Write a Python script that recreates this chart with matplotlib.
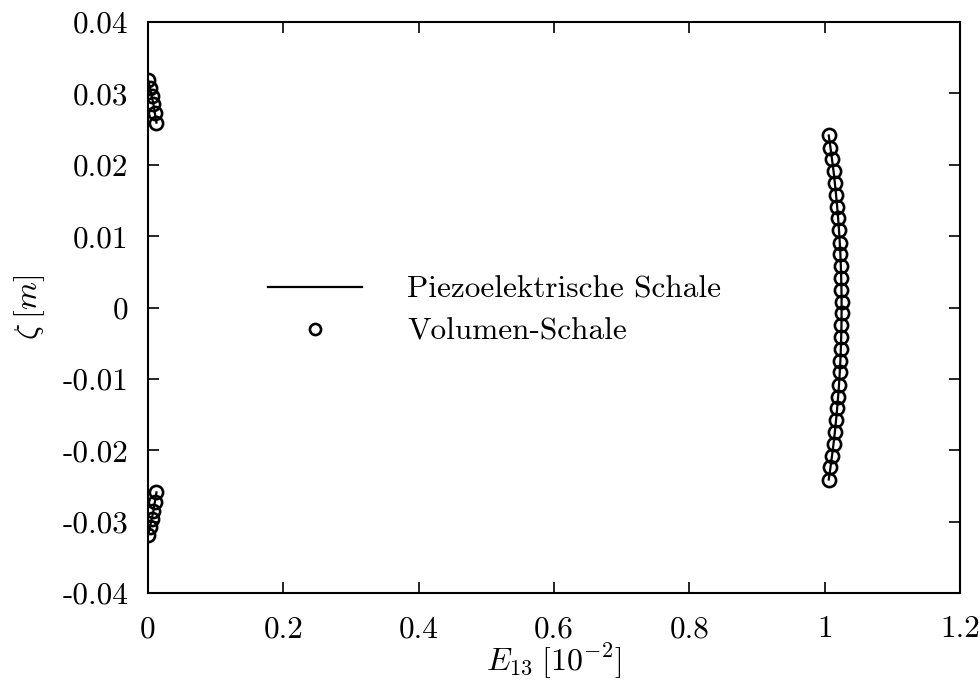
import numpy as np
import matplotlib
matplotlib.use("Agg")
import matplotlib.pyplot as plt

plt.rcParams['font.family'] = ['cmr10', 'DejaVu Serif']
plt.rcParams['mathtext.fontset'] = 'cm'
plt.rcParams['axes.unicode_minus'] = False

# Data (E13 in 1e-2, zeta in m)
top_x = [0.0, 0.003, 0.0055, 0.008, 0.010, 0.0125]
top_y = [0.0319, 0.0308, 0.0296, 0.0285, 0.0273, 0.0259]
bot_x = [0.0125, 0.010, 0.008, 0.0055, 0.003, 0.0]
bot_y = [-0.0259, -0.0273, -0.0285, -0.0296, -0.0308, -0.0319]
mid_y = [0.0241, 0.0224, 0.0208, 0.0191, 0.0175, 0.0158, 0.0141, 0.0125,
         0.0108, 0.0091, 0.0075, 0.0058, 0.0042, 0.0025, 0.0008,
         -0.0008, -0.0025, -0.0042, -0.0058, -0.0075, -0.0091, -0.0108,
         -0.0125, -0.0141, -0.0158, -0.0175, -0.0191, -0.0208, -0.0224, -0.0241]
mid_x = [1.006, 1.0086, 1.0108, 1.0131, 1.015, 1.0168, 1.0185, 1.0199,
         1.0212, 1.0223, 1.0232, 1.0239, 1.0244, 1.0248, 1.025,
         1.025, 1.0248, 1.0244, 1.0239, 1.0232, 1.0223, 1.0212,
         1.0199, 1.0185, 1.0168, 1.015, 1.0131, 1.0108, 1.0086, 1.006]

xticks = [0, 0.2, 0.4, 0.6, 0.8, 1, 1.2]
xticklabels = ['0', '0.2', '0.4', '0.6', '0.8', '1', '1.2']
yticks = [-0.04, -0.03, -0.02, -0.01, 0, 0.01, 0.02, 0.03, 0.04]
yticklabels = ['-0.04', '-0.03', '-0.02', '-0.01', '0', '0.01', '0.02', '0.03', '0.04']

fig = plt.figure(figsize=(9.8, 6.99), dpi=100)
ax = fig.add_axes([148/980, 1-593/699, (960-148)/980, (593-22)/699])

# Piezo shell line (three segments)
line_x = top_x + [np.nan] + mid_x + [np.nan] + bot_x
line_y = top_y + [np.nan] + mid_y + [np.nan] + bot_y
ax.plot(line_x, line_y, color='black', lw=1.6, label='Piezoelektrische Schale')
# Volume shell points
pts_x = top_x + mid_x + bot_x
pts_y = top_y + mid_y + bot_y
ax.plot(pts_x, pts_y, linestyle='none', marker='o', markersize=9.5,
        markerfacecolor='none', markeredgecolor='black', markeredgewidth=1.9,
        label='Volumen-Schale')

ax.set_xlim(0, 1.2)
ax.set_ylim(-0.04, 0.04)
ax.set_xticks(xticks)
ax.set_xticklabels(xticklabels)
ax.set_yticks(yticks)
ax.set_yticklabels(yticklabels)
ax.tick_params(direction='in', length=8, width=1.2, top=True, right=True,
               labelsize=22.5, pad=14)
ax.tick_params(axis='x', pad=16)
for s in ax.spines.values():
    s.set_linewidth(1.5)

ax.set_xlabel(r'$E_{13}\;[10^{-2}]$', fontsize=23, labelpad=-1)
ax.set_ylabel(r'$\zeta\;[m]$', fontsize=23, labelpad=11)

leg = ax.legend(loc='upper left', bbox_to_anchor=(268/980, 1-276/699),
                bbox_transform=fig.transFigure, frameon=False, fontsize=22.5,
                handlelength=3.0, handletextpad=1.45, labelspacing=0.45,
                borderpad=0, borderaxespad=0)
leg.legend_handles[1].set_markersize(8)

fig.savefig('out.png', dpi=100)
